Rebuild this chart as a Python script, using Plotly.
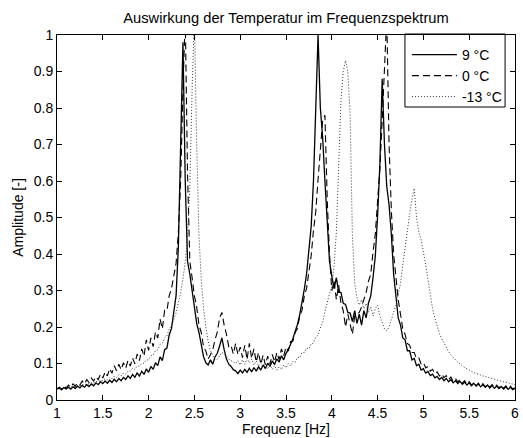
import plotly.graph_objects as go

# Frequency bins (Hz): uniform spectrum grid 1.0 ... 6.0, step 0.025
freq_start = 1.0
freq_step = 0.025
n_bins = 201
freq = [round(freq_start + freq_step * i, 3) for i in range(n_bins)]

series_names = ["9 °C", "0 °C", "-13 °C"]

amp_9 = [
    0.030, 0.033, 0.028, 0.034, 0.030, 0.035, 0.030, 0.036, 0.032, 0.038,
    0.033, 0.040, 0.035, 0.042, 0.037, 0.044, 0.039, 0.047, 0.042, 0.050,
    0.045, 0.052, 0.046, 0.054, 0.048, 0.057, 0.050, 0.059, 0.053, 0.062,
    0.056, 0.066, 0.059, 0.070, 0.062, 0.074, 0.066, 0.079, 0.070, 0.085,
    0.076, 0.092, 0.084, 0.102, 0.094, 0.118, 0.108, 0.138, 0.142, 0.178,
    0.196, 0.244, 0.286, 0.420, 0.700, 0.980, 0.600, 0.380, 0.345, 0.295,
    0.255, 0.210, 0.185, 0.145, 0.118, 0.102, 0.096, 0.110, 0.098, 0.118,
    0.128, 0.148, 0.170, 0.138, 0.112, 0.098, 0.092, 0.083, 0.080, 0.072,
    0.082, 0.074, 0.084, 0.076, 0.087, 0.077, 0.089, 0.079, 0.091, 0.082,
    0.096, 0.086, 0.101, 0.092, 0.107, 0.097, 0.113, 0.104, 0.121, 0.110,
    0.128, 0.138, 0.152, 0.168, 0.188, 0.207, 0.234, 0.266, 0.304, 0.346,
    0.404, 0.476, 0.600, 0.820, 1.000, 0.800, 0.720, 0.600, 0.480, 0.380,
    0.340, 0.305, 0.335, 0.295, 0.295, 0.265, 0.262, 0.240, 0.238, 0.215,
    0.245, 0.210, 0.235, 0.205, 0.245, 0.225, 0.265, 0.285, 0.335, 0.395,
    0.505, 0.645, 0.880, 0.700, 0.585, 0.535, 0.455, 0.345, 0.285, 0.225,
    0.205, 0.170, 0.165, 0.135, 0.135, 0.110, 0.114, 0.094, 0.098, 0.082,
    0.086, 0.074, 0.078, 0.067, 0.071, 0.061, 0.065, 0.056, 0.062, 0.053,
    0.059, 0.050, 0.056, 0.047, 0.053, 0.045, 0.051, 0.043, 0.049, 0.041,
    0.047, 0.039, 0.046, 0.038, 0.044, 0.036, 0.042, 0.035, 0.041, 0.033,
    0.040, 0.032, 0.038, 0.031, 0.037, 0.030, 0.036, 0.029, 0.035, 0.028,
    0.032,
]

amp_0 = [
    0.030, 0.035, 0.030, 0.038, 0.033, 0.041, 0.035, 0.044, 0.038, 0.047,
    0.041, 0.052, 0.044, 0.056, 0.048, 0.060, 0.052, 0.064, 0.056, 0.071,
    0.060, 0.077, 0.066, 0.086, 0.073, 0.094, 0.080, 0.098, 0.083, 0.102,
    0.087, 0.108, 0.093, 0.115, 0.099, 0.126, 0.108, 0.140, 0.120, 0.165,
    0.136, 0.170, 0.146, 0.186, 0.170, 0.222, 0.195, 0.246, 0.245, 0.286,
    0.305, 0.336, 0.375, 0.460, 0.600, 0.850, 1.050, 0.620, 0.380, 0.335,
    0.285, 0.255, 0.205, 0.185, 0.146, 0.134, 0.112, 0.124, 0.137, 0.165,
    0.186, 0.225, 0.240, 0.205, 0.180, 0.146, 0.150, 0.126, 0.155, 0.124,
    0.145, 0.116, 0.150, 0.111, 0.155, 0.114, 0.140, 0.104, 0.130, 0.098,
    0.123, 0.096, 0.120, 0.098, 0.125, 0.104, 0.130, 0.111, 0.140, 0.121,
    0.145, 0.134, 0.160, 0.161, 0.185, 0.196, 0.230, 0.246, 0.285, 0.306,
    0.355, 0.396, 0.465, 0.516, 0.605, 0.676, 0.765, 0.780, 0.550, 0.400,
    0.300, 0.325, 0.275, 0.315, 0.265, 0.245, 0.200, 0.235, 0.210, 0.180,
    0.230, 0.235, 0.240, 0.255, 0.275, 0.295, 0.325, 0.345, 0.405, 0.455,
    0.545, 0.635, 0.765, 0.920, 1.050, 0.700, 0.520, 0.400, 0.335, 0.275,
    0.235, 0.195, 0.180, 0.155, 0.150, 0.130, 0.130, 0.113, 0.115, 0.099,
    0.103, 0.088, 0.092, 0.079, 0.084, 0.072, 0.077, 0.066, 0.072, 0.061,
    0.067, 0.056, 0.063, 0.052, 0.059, 0.049, 0.056, 0.046, 0.053, 0.043,
    0.050, 0.041, 0.048, 0.039, 0.046, 0.037, 0.045, 0.036, 0.043, 0.035,
    0.042, 0.034, 0.041, 0.033, 0.040, 0.032, 0.039, 0.031, 0.038, 0.030,
    0.034,
]

amp_m13 = [
    0.030, 0.032, 0.031, 0.034, 0.033, 0.036, 0.035, 0.038, 0.037, 0.040,
    0.039, 0.042, 0.041, 0.045, 0.044, 0.048, 0.047, 0.051, 0.050, 0.054,
    0.053, 0.058, 0.055, 0.061, 0.058, 0.065, 0.062, 0.069, 0.066, 0.074,
    0.071, 0.079, 0.079, 0.087, 0.084, 0.093, 0.093, 0.101, 0.101, 0.110,
    0.110, 0.122, 0.123, 0.135, 0.138, 0.152, 0.156, 0.170, 0.176, 0.194,
    0.203, 0.224, 0.238, 0.267, 0.293, 0.332, 0.378, 0.450, 0.580, 0.850,
    1.050, 0.700, 0.450, 0.330, 0.250, 0.200, 0.160, 0.135, 0.120, 0.110,
    0.112, 0.120, 0.130, 0.125, 0.118, 0.112, 0.108, 0.104, 0.100, 0.108,
    0.096, 0.110, 0.098, 0.114, 0.102, 0.112, 0.096, 0.107, 0.093, 0.102,
    0.090, 0.099, 0.086, 0.096, 0.084, 0.094, 0.082, 0.092, 0.084, 0.096,
    0.088, 0.100, 0.093, 0.106, 0.103, 0.117, 0.116, 0.130, 0.130, 0.142,
    0.140, 0.154, 0.156, 0.172, 0.178, 0.197, 0.213, 0.242, 0.268, 0.292,
    0.310, 0.370, 0.460, 0.650, 0.820, 0.900, 0.930, 0.900, 0.780, 0.450,
    0.320, 0.280, 0.260, 0.275, 0.250, 0.265, 0.240, 0.255, 0.230, 0.250,
    0.260, 0.230, 0.210, 0.195, 0.190, 0.200, 0.220, 0.240, 0.260, 0.290,
    0.320, 0.370, 0.420, 0.470, 0.510, 0.550, 0.580, 0.500, 0.460, 0.440,
    0.410, 0.370, 0.330, 0.290, 0.250, 0.225, 0.200, 0.182, 0.168, 0.155,
    0.143, 0.133, 0.124, 0.116, 0.110, 0.104, 0.098, 0.094, 0.089, 0.085,
    0.082, 0.078, 0.075, 0.073, 0.070, 0.068, 0.066, 0.064, 0.062, 0.060,
    0.058, 0.057, 0.055, 0.053, 0.052, 0.050, 0.048, 0.047, 0.045, 0.044,
    0.042,
]

x_ticks = [1, 1.5, 2, 2.5, 3, 3.5, 4, 4.5, 5, 5.5, 6]
x_tick_labels = ["1", "1.5", "2", "2.5", "3", "3.5", "4", "4.5", "5", "5.5", "6"]
y_ticks = [0, 0.1, 0.2, 0.3, 0.4, 0.5, 0.6, 0.7, 0.8, 0.9, 1]
y_tick_labels = ["0", "0.1", "0.2", "0.3", "0.4", "0.5", "0.6", "0.7", "0.8", "0.9", "1"]

FONT = "Liberation Sans, Arial, sans-serif"

# layout geometry (pixels)
W, H = 523, 438
ML, MR, MT, MB = 57, 4, 35, 38
PW, PH = W - ML - MR, H - MT - MB


def px_x(p):
    return (p - ML) / PW


def px_y(p):
    return (H - MB - p) / PH


fig = go.Figure()
fig.add_trace(go.Scatter(x=freq, y=amp_9, mode="lines", name=series_names[0],
                         legend="legend",
                         line=dict(color="#000000", width=1.3, dash="solid")))
fig.add_trace(go.Scatter(x=freq, y=amp_0, mode="lines", name=series_names[1],
                         legend="legend2",
                         line=dict(color="#000000", width=1.1, dash="7px,4px")))
fig.add_trace(go.Scatter(x=freq, y=amp_m13, mode="lines", name=series_names[2],
                         legend="legend3",
                         line=dict(color="#333333", width=1, dash="1px,2px")))

axis_common = dict(
    showline=True, linecolor="#000000", linewidth=1, mirror="ticks",
    ticks="inside", ticklen=5, tickwidth=1, tickcolor="#000000",
    showgrid=False, zeroline=False, ticklabeloverflow="allow",
    tickfont=dict(family=FONT, size=14, color="#000000"),
)

leg_common = dict(x=px_x(410), xanchor="left", yanchor="middle",
                  bgcolor="rgba(0,0,0,0)", borderwidth=0,
                  font=dict(family=FONT, size=14, color="#000000"),
                  itemwidth=45)

fig.update_layout(
    width=W, height=H,
    margin=dict(l=ML, r=MR, t=MT, b=MB),
    paper_bgcolor="#ffffff", plot_bgcolor="#ffffff",
    font=dict(family=FONT, size=14, color="#000000"),
    title=dict(text="Auswirkung der Temperatur im Frequenzspektrum",
               x=0.5, xref="paper", xanchor="center",
               y=1 - 18 / H, yref="container", yanchor="middle",
               font=dict(family=FONT, size=14.7, color="#000000")),
    xaxis=dict(range=[1, 6], tickvals=x_ticks, ticktext=x_tick_labels,
               title=dict(text="Frequenz [Hz]", standoff=3,
                          font=dict(family=FONT, size=14, color="#000000")),
               **axis_common),
    yaxis=dict(range=[0, 1], tickvals=y_ticks, ticktext=y_tick_labels,
               title=dict(text="Amplitude [-]", standoff=6,
                          font=dict(family=FONT, size=14, color="#000000")),
               **axis_common),
    legend=dict(y=px_y(55), **leg_common),
    legend2=dict(y=px_y(76), **leg_common),
    legend3=dict(y=px_y(97), **leg_common),
    shapes=[dict(type="rect", xref="paper", yref="paper",
                 x0=px_x(408), x1=px_x(509), y0=px_y(107), y1=px_y(34),
                 line=dict(color="#000000", width=1),
                 fillcolor="rgba(0,0,0,0)", layer="above")],
    showlegend=True,
)

fig.write_html("out.html",
               config={"displayModeBar": False},
               post_script="document.body.style.margin='0';document.body.style.padding='0';")
